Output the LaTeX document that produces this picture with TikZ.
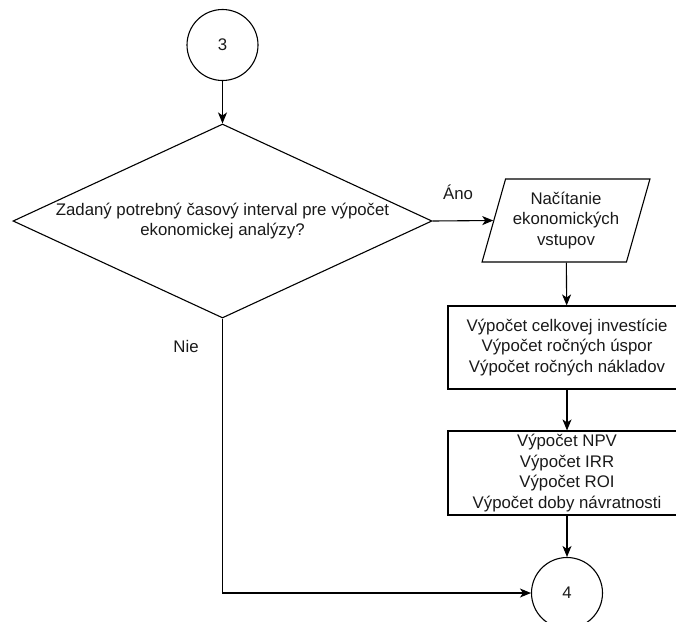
\documentclass[tikz,border=0pt]{standalone}
\usepackage{fontspec}
\setmainfont{Liberation Sans}
\usetikzlibrary{shapes.geometric,arrows.meta}

\begin{document}
\begin{tikzpicture}[x=1pt,y=-1pt,
	every node/.style={font=\fontsize{16.8}{20.5}\selectfont,text=black!90},
	conn/.style={draw,circle,line width=1.1pt,minimum size=71pt,inner sep=0pt},
	calc/.style={draw,rectangle,line width=1.1pt,minimum width=238pt,align=center},
	flow/.style={line width=1.1pt,-{Stealth[length=11pt,width=9pt,inset=3pt]}}]
	\useasboundingbox (0,0) rectangle (676,621);
	\node[conn] (c3) at (222.5,45) {3};
	\node[draw,diamond,line width=1.1pt,minimum width=419pt,minimum height=194pt,
		shape aspect=2.16,inner sep=0pt,align=center] (dec) at (222.5,221)
		{Zadaný potrebný časový interval pre výpočet\\ekonomickej analýzy?};
	\node[draw,trapezium,trapezium left angle=70,trapezium right angle=110,
		trapezium stretches=true,line width=1.1pt,minimum width=168pt,
		minimum height=83pt,inner sep=0pt,align=center] (inp) at (566,220.5)
		{Načítanie\\ekonomických\\vstupov};
	\node[calc,minimum height=83pt] (r1) at (567,347.5)
		{Výpočet celkovej investície\\Výpočet ročných úspor\\Výpočet ročných nákladov};
	\node[calc,minimum height=84pt] (r2) at (567,473)
		{Výpočet NPV\\Výpočet IRR\\Výpočet ROI\\Výpočet doby návratnosti};
	\node[conn] (c4) at (567,593) {4};
	\node (ano) at (458,192) {Áno};
	\node (nie) at (186,346) {Nie};
	\draw[flow] (c3) -- (dec);
	\draw[flow] (dec.east) -- (inp.west);
	\draw[flow] (inp) -- (r1);
	\draw[flow] (r1) -- (r2);
	\draw[flow] (r2) -- (c4);
	\draw[flow] (dec.south) |- (c4.west);
\end{tikzpicture}
\end{document}
